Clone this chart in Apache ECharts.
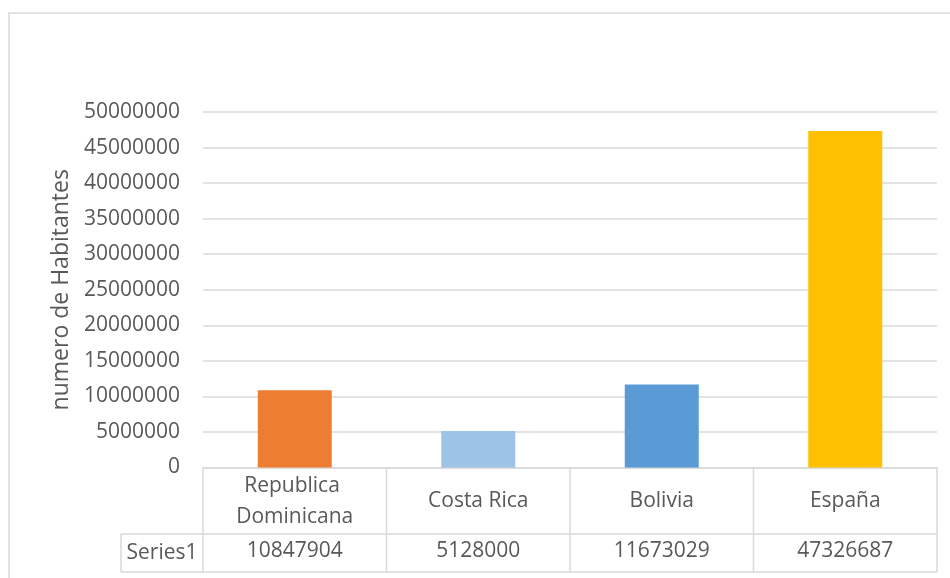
<!DOCTYPE html>
<html>
<head>
<meta charset="utf-8">
<script src="https://cdn.jsdelivr.net/npm/echarts@6/dist/echarts.min.js"></script>
<style>
  html, body { margin: 0; padding: 0; background: #fff; }
  #chart { width: 950px; height: 578px; }
</style>
</head>
<body>
<div id="chart"></div>
<script>
// Population by country
const categories = ['Republica Dominicana', 'Costa Rica', 'Bolivia', 'España'];
const seriesName = 'Series1';
const values = [10847904, 5128000, 11673029, 47326687];
const barColors = ['#ED7D31', '#9DC3E6', '#5B9BD5', '#FFC000'];
const yAxisTitle = 'numero de Habitantes';

const FONT = '"Open Sans", sans-serif';
const FS = 21;
const TEXT = '#595959';
const LINE = '#D9D9D9';

// plot area
const W = 950, H = 578;
const gLeft = 203, gRight = 937, gTop = 112, gBottom = 467.5;
// data table rows beneath the plot
const rowSplit = 534, tableBottom = 572, legendCellLeft = 121;

const chart = echarts.init(document.getElementById('chart'), null, { renderer: 'canvas' });

const cellW = (gRight - gLeft) / categories.length;
const tableLines = [];
// horizontal rules
tableLines.push({ x1: gLeft, y1: rowSplit, x2: gRight, y2: rowSplit });
tableLines.push({ x1: legendCellLeft, y1: rowSplit, x2: gLeft, y2: rowSplit });
tableLines.push({ x1: legendCellLeft, y1: tableBottom, x2: gRight, y2: tableBottom });
// vertical rules
for (let i = 0; i <= categories.length; i++) {
  const x = gLeft + i * cellW;
  tableLines.push({ x1: x, y1: gBottom, x2: x, y2: tableBottom });
}
tableLines.push({ x1: legendCellLeft, y1: rowSplit, x2: legendCellLeft, y2: tableBottom });

const graphics = tableLines.map(s => ({
  type: 'line',
  shape: s,
  style: { stroke: LINE, lineWidth: 1.5 },
  silent: true
}));
// outer chart frame
graphics.push({
  type: 'rect',
  shape: { x: 9, y: 13, width: W + 20, height: H + 20 },
  style: { fill: 'none', stroke: LINE, lineWidth: 1.5 },
  silent: true,
  z: -1
});
// series key cell
graphics.push({
  type: 'text',
  x: (legendCellLeft + gLeft) / 2,
  y: (rowSplit + tableBottom) / 2,
  style: {
    text: seriesName, font: FS + 'px ' + FONT, fill: TEXT,
    textAlign: 'center', textVerticalAlign: 'middle'
  },
  silent: true
});

chart.setOption({
  animation: false,
  backgroundColor: '#fff',
  grid: { left: gLeft, right: W - gRight, top: gTop, bottom: H - gBottom, containLabel: false },
  xAxis: [
    {
      type: 'category',
      data: categories,
      axisLine: { show: true, lineStyle: { color: LINE, width: 1.5 } },
      axisTick: { show: false },
      axisLabel: {
        interval: 0, margin: 34, color: TEXT, fontFamily: FONT, fontSize: FS,
        width: 165, overflow: 'break', lineHeight: 31, verticalAlign: 'middle'
      }
    },
    {
      type: 'category',
      data: categories,
      position: 'bottom',
      offset: 50,
      axisLine: { show: false },
      axisTick: { show: false },
      axisLabel: {
        interval: 0, margin: 34, color: TEXT, fontFamily: FONT, fontSize: FS,
        verticalAlign: 'middle',
        formatter: (v, i) => String(values[i])
      }
    }
  ],
  yAxis: {
    type: 'value',
    min: 0, max: 50000000, interval: 5000000,
    name: yAxisTitle,
    nameLocation: 'middle',
    nameGap: 130,
    nameTextStyle: { color: TEXT, fontFamily: FONT, fontSize: 23 },
    axisLine: { show: false },
    axisTick: { show: false },
    axisLabel: { color: TEXT, fontFamily: FONT, fontSize: FS, margin: 23, formatter: v => String(v) },
    splitLine: { lineStyle: { color: LINE, width: 1.5 } }
  },
  series: [{
    name: seriesName,
    type: 'bar',
    data: values.map((v, i) => ({ value: v, itemStyle: { color: barColors[i] } })),
    barWidth: 74
  }],
  graphic: graphics
});
</script>
</body>
</html>
